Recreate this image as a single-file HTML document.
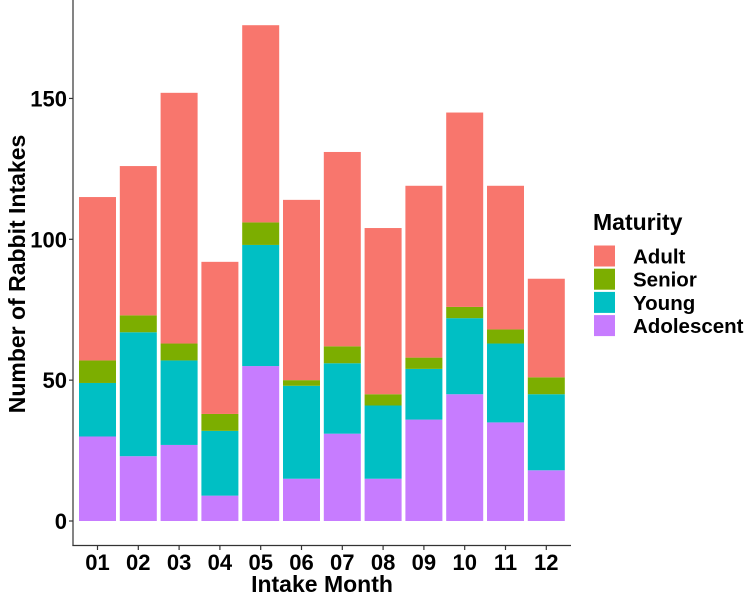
<!DOCTYPE html>
<html><head><meta charset="utf-8"><style>
html,body{margin:0;padding:0;background:#fff;overflow:hidden}
svg{display:block;font-family:"Liberation Sans",sans-serif;font-weight:bold}
</style></head><body>
<svg id="chart" width="750" height="596">
<g id="bars"></g>
<g id="axes"></g>
<g id="legend"></g>
</svg>
<script>
const months = ["01","02","03","04","05","06","07","08","09","10","11","12"];
const adolescent = [30,23,27,9,55,15,31,15,36,45,35,18];
const young = [19,44,30,23,43,33,25,26,18,27,28,27];
const senior = [8,6,6,6,8,2,6,4,4,4,5,6];
const adult = [58,53,89,54,70,64,69,59,61,69,51,35];
const yTicks = [0,50,100,150];
const seriesNames = ["Adolescent","Young","Senior","Adult"];
const colors = {Adult:"#F8766D",Senior:"#7CAE00",Young:"#00BFC4",Adolescent:"#C77CFF"};

const NS="http://www.w3.org/2000/svg";
function y(v){return 521-2.817*v;}
function x(i){return 79+40.8*i;}
const bw=37;
function mk(tag,attrs,parent){const e=document.createElementNS(NS,tag);for(const k in attrs)e.setAttribute(k,attrs[k]);parent.appendChild(e);return e;}
const bars=document.getElementById('bars');
const seriesData={Adolescent:adolescent,Young:young,Senior:senior,Adult:adult};
months.forEach((m,i)=>{
  let base=0;
  seriesNames.forEach(s=>{
    const v=seriesData[s][i];
    const r=mk('rect',{x:x(i),y:y(base+v),width:bw,height:y(base)-y(base+v),fill:colors[s]},bars);
    
    
    base+=v;
  });
});
const axes=document.getElementById('axes');
let l=mk('line',{x1:73,y1:0,x2:73,y2:546,stroke:'#333','stroke-width':1.2},axes);

l=mk('line',{x1:72.4,y1:545.5,x2:571,y2:545.5,stroke:'#333','stroke-width':1.2},axes);

yTicks.forEach(t=>{
  let tk=mk('line',{x1:69,y1:y(t),x2:73,y2:y(t),stroke:'#333','stroke-width':1.2},axes);
  
  let tx=mk('text',{x:67,y:y(t)+8,'text-anchor':'end','font-size':22,fill:'#000'},axes);
  tx.textContent=t;
  
});
months.forEach((m,i)=>{
  let tk=mk('line',{x1:x(i)+bw/2,y1:546,x2:x(i)+bw/2,y2:550,stroke:'#333','stroke-width':1.2},axes);
  
  let tx=mk('text',{x:x(i)+bw/2,y:570,'text-anchor':'middle','font-size':22,fill:'#000'},axes);
  tx.textContent=m;
  
});
let t=mk('text',{x:322,y:592,'text-anchor':'middle','font-size':23,fill:'#000'},axes);
t.textContent='Intake Month';

t=mk('text',{x:0,y:0,transform:'translate(25,274) rotate(-90)','text-anchor':'middle','font-size':23,fill:'#000'},axes);
t.textContent='Number of Rabbit Intakes';

const legend=document.getElementById('legend');
t=mk('text',{x:593,y:230,'font-size':23,fill:'#000'},legend);
t.textContent='Maturity';

["Adult","Senior","Young","Adolescent"].forEach((s,i)=>{
  const yy=245.5+23.2*i;
  let r=mk('rect',{x:594,y:yy,width:21,height:21,fill:colors[s]},legend);
  
  let tx=mk('text',{x:633,y:yy+18,'font-size':20.5,fill:'#000'},legend);
  tx.textContent=s;
  
});
</script>
</body></html>
